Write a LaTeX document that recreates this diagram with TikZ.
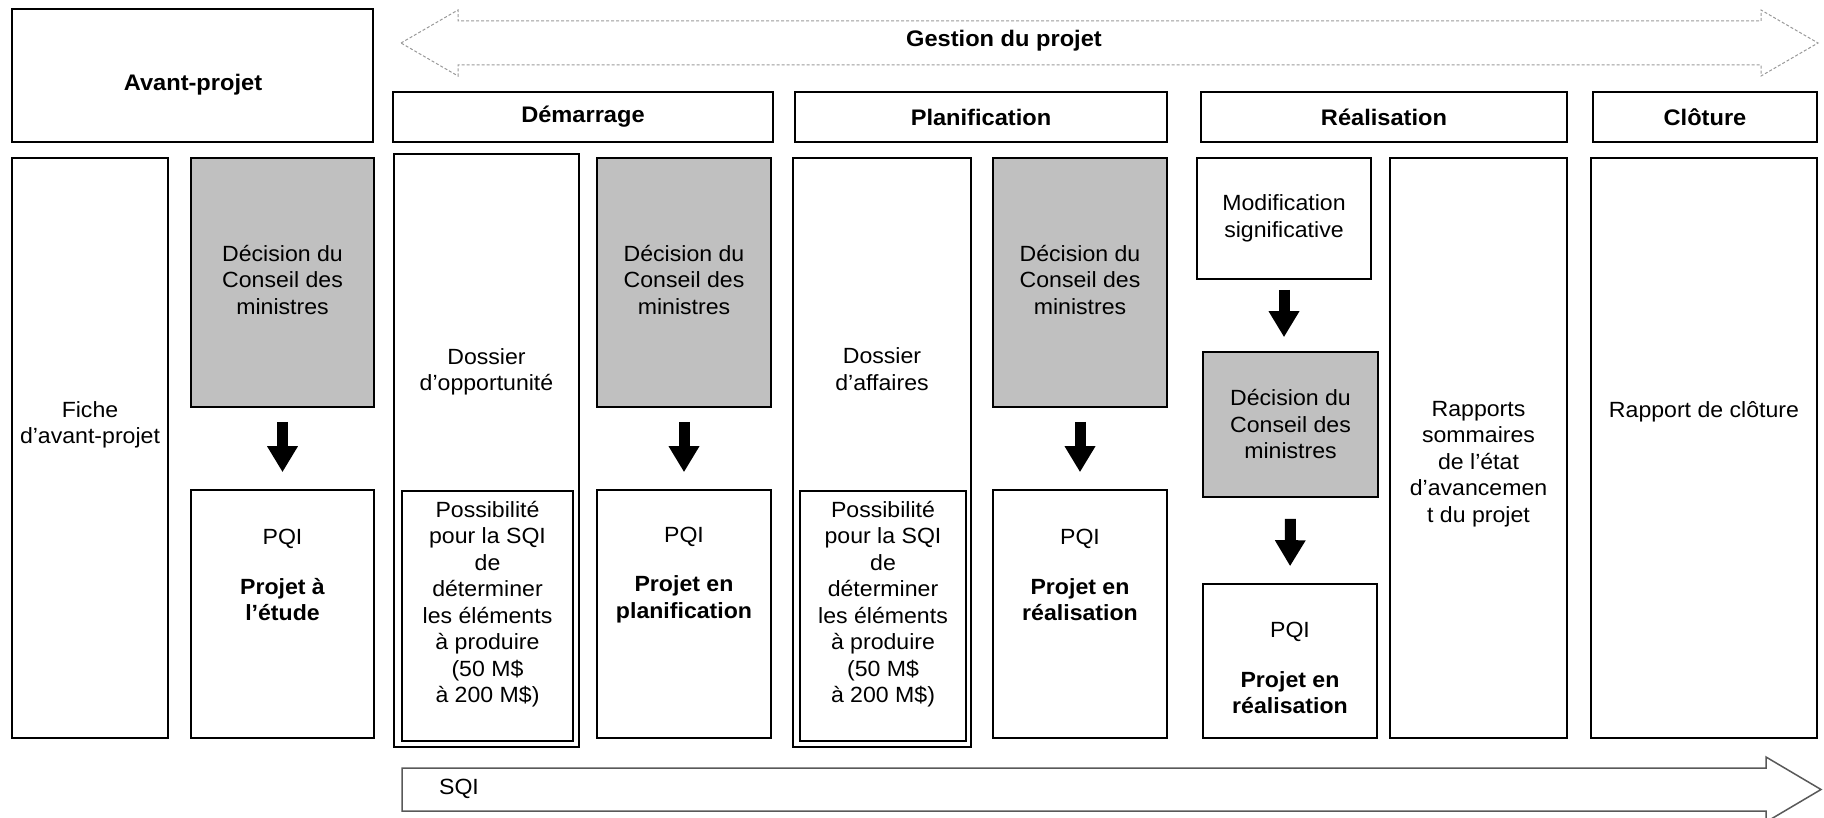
\documentclass[tikz,border=0pt]{standalone}
\usepackage{fontspec}
\setmainfont{Liberation Sans}[FakeStretch=1.05]
\usepackage{tikz}
\usetikzlibrary{positioning,arrows.meta}
\definecolor{decgray}{RGB}{192,192,192}
\tikzset{
    box/.style={draw=black, line width=1.6pt, inner sep=0pt},
    decbox/.style={box, fill=decgray},
    txt/.style={align=center, inner sep=0pt, font=\fontsize{22}{26.5}\selectfont},
    headtxt/.style={txt, font=\fontsize{22.5}{26.5}\selectfont\bfseries},
    down/.style={line width=11pt, -{Triangle[width=29pt,length=26pt]}},
    gestarrow/.style={draw=black!40, line width=1pt, dash pattern=on 3pt off 2pt},
    sqiarrow/.style={draw=black!65, line width=1.5pt},
}

\begin{document}
\begin{tikzpicture}[x=1pt, y=-1pt]
                    \useasboundingbox (0,0) rectangle (1824,818);
                    \draw[gestarrow] (401,43) -- (458,10) -- (458,21) -- (1761,21) -- (1761,10) -- (1818,43) -- (1761,76) -- (1761,65) -- (458,65) -- (458,76) -- cycle;
                    \node[headtxt] (gestion) at (1004,41) {Gestion du projet};

                    \node[box, minimum width=361pt, minimum height=133pt] (avant) at (192.5,75.5) {};
                    \node[headtxt] (avanttxt) at (193,85) {Avant-projet};
                    \node[box, headtxt, minimum width=380pt, minimum height=50pt] (demar) at (583,117) {Démarrage};
                    \node[box, headtxt, minimum width=372pt, minimum height=50pt] (planif) at (981,117) {Planification};
                    \node[box, headtxt, minimum width=366pt, minimum height=50pt] (realis) at (1384,117) {Réalisation};
                    \node[box, headtxt, minimum width=224pt, minimum height=50pt] (clot) at (1705,117) {Clôture};

                    \node[box, minimum width=156pt, minimum height=580pt] (fiche) at (90,448) {};
                    \node[txt] (fichetxt) at (90,425) {Fiche\\d’avant-projet};
                    \node[decbox, minimum width=183pt, minimum height=249pt] (dec1) at (282.5,282.5) {};
                    \node[txt] (dec1txt) at (282.5,280) {Décision du\\Conseil des\\ministres};
                    \node[box, minimum width=183pt, minimum height=248pt] (pqi1) at (282.5,614) {};
                    \node[txt] (pqi1txt) at (282.5,575) {PQI\\[23pt]\textbf{Projet à}\\\textbf{l’étude}};

                    \node[box, minimum width=185pt, minimum height=593pt] (dopp) at (486.5,450.5) {};
                    \node[txt] (dopptxt) at (486.5,372) {Dossier\\d’opportunité};
                    \node[box, minimum width=171pt, minimum height=250pt] (possa) at (487.5,616) {};
                    \node[txt] (possatxt) at (487.5,604) {Possibilité\\pour la SQI\\de\\déterminer\\les éléments\\à produire\\(50 M\$\\à 200 M\$)};
                    \node[decbox, minimum width=174pt, minimum height=249pt] (dec2) at (684,282.5) {};
                    \node[txt] (dec2txt) at (684,280) {Décision du\\Conseil des\\ministres};
                    \node[box, minimum width=174pt, minimum height=248pt] (pqi2) at (684,614) {};
                    \node[txt] (pqi2txt) at (684,575) {PQI\\[23pt]\textbf{Projet en}\\\textbf{planification}};

                    \node[box, minimum width=178pt, minimum height=589pt] (daff) at (882,452.5) {};
                    \node[txt] (dafftxt) at (882,369) {Dossier\\d’affaires};
                    \node[box, minimum width=166pt, minimum height=250pt] (possb) at (883,616) {};
                    \node[txt] (possbtxt) at (883,604) {Possibilité\\pour la SQI\\de\\déterminer\\les éléments\\à produire\\(50 M\$\\à 200 M\$)};
                    \node[decbox, minimum width=174pt, minimum height=249pt] (dec3) at (1080,282.5) {};
                    \node[txt] (dec3txt) at (1080,280) {Décision du\\Conseil des\\ministres};
                    \node[box, minimum width=174pt, minimum height=248pt] (pqi3) at (1080,614) {};
                    \node[txt] (pqi3txt) at (1080,575) {PQI\\[23pt]\textbf{Projet en}\\\textbf{réalisation}};

                    \node[box, txt, minimum width=174pt, minimum height=121pt] (modif) at (1284,218.5) {Modification\\significative};
                    \node[decbox, txt, minimum width=175pt, minimum height=145pt] (dec4) at (1290.5,424.5) {Décision du\\Conseil des\\ministres};
                    \node[box, minimum width=174pt, minimum height=154pt] (pqi4) at (1290,661) {};
                    \node[txt] (pqi4txt) at (1290,668) {PQI\\[23pt]\textbf{Projet en}\\\textbf{réalisation}};
                    \node[box, minimum width=177pt, minimum height=580pt] (rapp) at (1478.5,448) {};
                    \node[txt] (rapptxt) at (1478.5,464) {Rapports\\sommaires\\de l’état\\d’avancemen\\t du projet};
                    \node[box, minimum width=226pt, minimum height=580pt] (rclot) at (1704,448) {};
                    \node[txt] (rclottxt) at (1704,412) {Rapport de clôture};

                    \draw[down, shorten <=14pt, shorten >=17pt] (dec1) -- (pqi1);
                    \draw[down, shorten <=14pt, shorten >=17pt] (dec2) -- (pqi2);
                    \draw[down, shorten <=14pt, shorten >=17pt] (dec3) -- (pqi3);
                    \draw[down, shorten <=10pt, shorten >=14pt] (modif.south) -- (modif.south |- dec4.north);
                    \draw[down, shorten <=21pt, shorten >=17pt] (dec4.south) -- (pqi4.north);

                    \draw[sqiarrow] (402,768) -- (1766,768) -- (1766,757) -- (1821,789.5) -- (1766,822) -- (1766,811) -- (402,811) -- cycle;
                    \node[txt] (sqi) at (459,789) {SQI};
                \end{tikzpicture}
\end{document}
